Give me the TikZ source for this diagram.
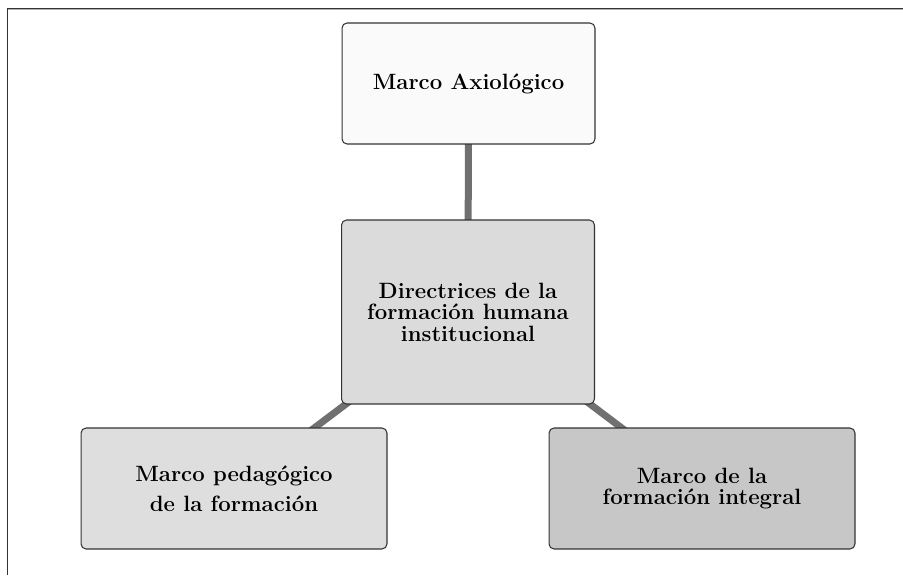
\documentclass[tikz,border=0pt]{standalone}
\usetikzlibrary{backgrounds}

\tikzset{
	marco/.style={draw=black!80, line width=0.6pt, rounded corners=0.1cm, inner sep=0pt,
		minimum width=5.06cm, minimum height=2.42cm, align=center,
		font=\bfseries\fontsize{12.6}{12.2}\selectfont},
	enlace/.style={line width=0.14cm, color=black!56},
}

\begin{document}
\begin{tikzpicture}[x=0.02cm, y=-0.02cm]
			%%%%% START %%%%%
			
			\useasboundingbox (0, 0) rectangle (903, 575);
			
			\draw[line width=0.6pt, color=black!30] (903, 9.6) -- (8.2, 9.6);
			\draw[line width=0.7pt, color=black!80] (903, 8.3) -- (7.5, 8.3) -- (7.5, 575);
			
			\node[marco, fill=black!2] (axio) at (468.5, 83.5) {Marco Axiológico};
			\node[marco, fill=black!14, minimum height=3.68cm] (direc) at (468, 312)
				{Directrices de la\\formación humana\\institucional};
			
			\node[marco, fill=black!13, minimum width=6.12cm] (pedag) at (234, 488.5)
				{Marco pedagógico\\[4.8pt]de la formación};
			\node[marco, fill=black!22, minimum width=6.12cm] (integ) at (702, 488.5)
				{Marco de la\\formación integral};
			
			\begin{pgfonlayer}{background}
				\draw[enlace] (axio.center) -- (direc.center);
				\draw[enlace] (direc.center) -- (pedag.center);
				\draw[enlace] (direc.center) -- (integ.center);
			\end{pgfonlayer}
			
			%%%%% END %%%%%
\end{tikzpicture}
\end{document}
